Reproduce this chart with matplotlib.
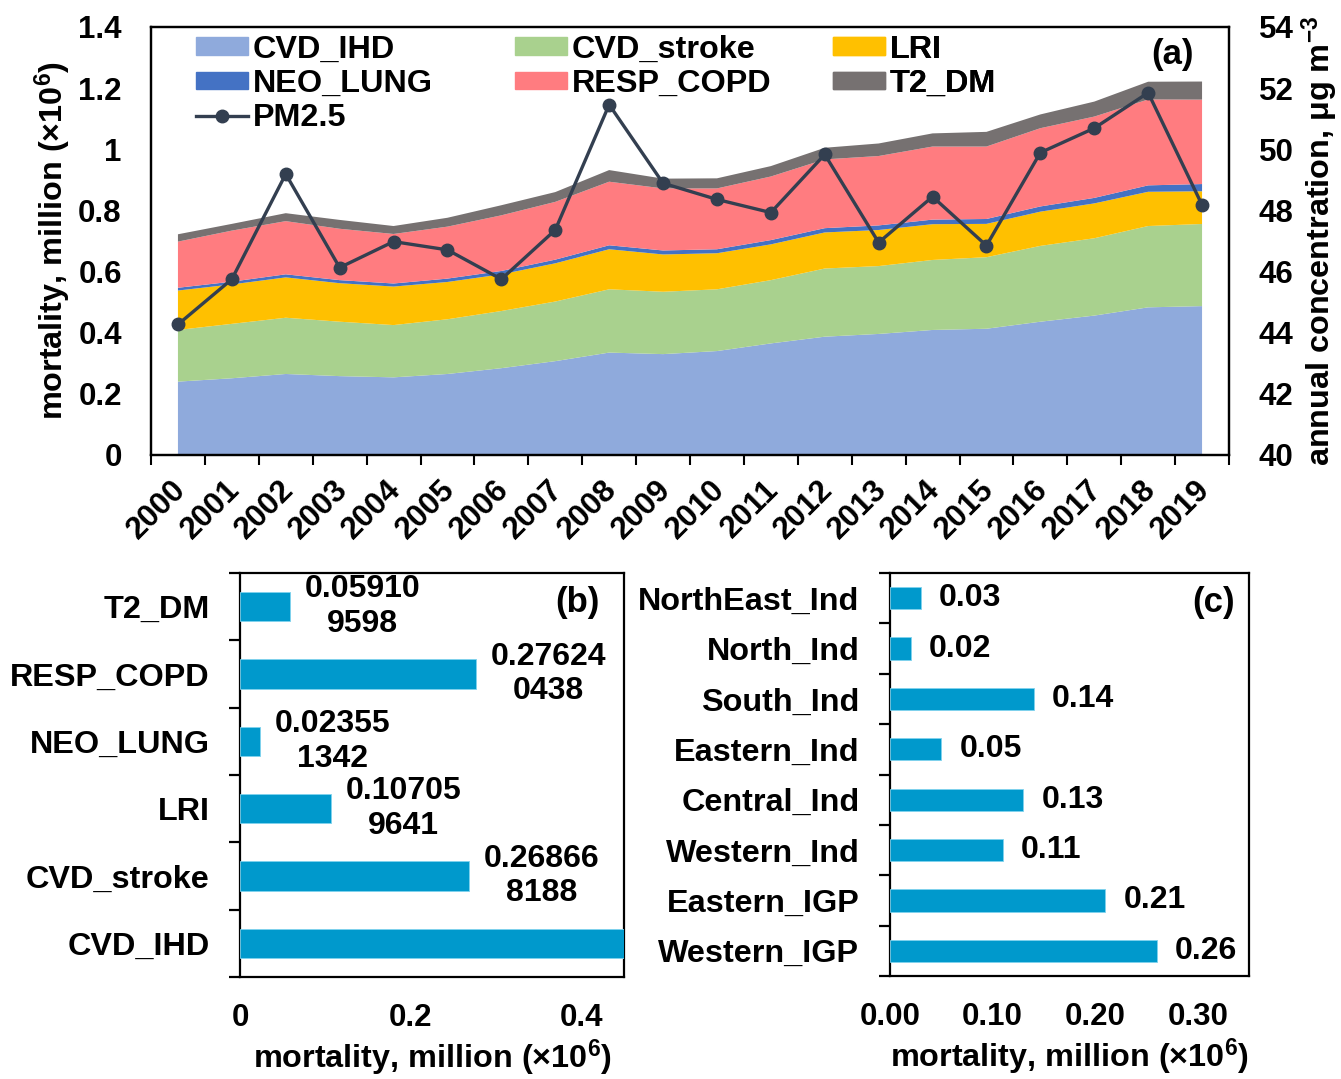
import matplotlib
matplotlib.use("Agg")
import matplotlib.pyplot as plt
import numpy as np
from matplotlib.patches import Patch
from matplotlib.lines import Line2D

plt.rcParams['font.family'] = ['Liberation Sans', 'DejaVu Sans']
plt.rcParams['font.weight'] = 'bold'
plt.rcParams['axes.labelweight'] = 'bold'
plt.rcParams['mathtext.fontset'] = 'custom'
plt.rcParams['mathtext.rm'] = 'Liberation Sans:bold'
plt.rcParams['mathtext.it'] = 'Liberation Sans:bold'
plt.rcParams['mathtext.bf'] = 'Liberation Sans:bold'

# ---- (a) yearly attributable mortality by cause (million) and PM2.5 ----
years = [str(y) for y in range(2000, 2020)]
cvd_ihd = [0.240, 0.251, 0.265, 0.258, 0.254, 0.265, 0.284, 0.307, 0.335, 0.330,
           0.340, 0.365, 0.387, 0.396, 0.409, 0.413, 0.436, 0.456, 0.483, 0.487]
cvd_stroke = [0.169, 0.178, 0.184, 0.178, 0.171, 0.179, 0.187, 0.195, 0.207, 0.204,
              0.202, 0.207, 0.223, 0.222, 0.229, 0.234, 0.248, 0.253, 0.266, 0.268668188]
lri = [0.129, 0.129, 0.132, 0.126, 0.126, 0.122, 0.120, 0.125, 0.131, 0.122,
       0.118, 0.117, 0.118, 0.118, 0.117, 0.109, 0.112, 0.114, 0.112, 0.107059641]
neo_lung = [0.009, 0.009, 0.010, 0.010, 0.010, 0.011, 0.011, 0.012, 0.013, 0.013,
            0.013, 0.014, 0.014, 0.015, 0.015, 0.016, 0.017, 0.018, 0.021, 0.023551342]
resp_copd = [0.151, 0.167, 0.174, 0.168, 0.162, 0.170, 0.182, 0.189, 0.208, 0.203,
             0.199, 0.208, 0.225, 0.227, 0.239, 0.237, 0.256, 0.266, 0.281, 0.276240438]
t2_dm = [0.024, 0.022, 0.026, 0.029, 0.026, 0.029, 0.033, 0.032, 0.038, 0.032,
         0.033, 0.034, 0.038, 0.041, 0.043, 0.048, 0.045, 0.049, 0.058, 0.059109598]
pm25 = [44.27, 45.75, 49.19, 46.13, 46.98, 46.71, 45.75, 47.36, 51.46, 48.89,
        48.36, 47.93, 49.83, 46.95, 48.45, 46.85, 49.89, 50.69, 51.85, 48.18]

# ---- (b) mortality by cause, 2019 ----
causes = ['CVD_IHD', 'CVD_stroke', 'LRI', 'NEO_LUNG', 'RESP_COPD', 'T2_DM']
cause_vals = [0.487, 0.268668188, 0.107059641, 0.023551342, 0.276240438, 0.059109598]

# ---- (c) mortality by region ----
regions = ['Western_IGP', 'Eastern_IGP', 'Western_Ind', 'Central_Ind',
           'Eastern_Ind', 'South_Ind', 'North_Ind', 'NorthEast_Ind']
region_vals = [0.26, 0.21, 0.11, 0.13, 0.05, 0.14, 0.02, 0.03]

c_ihd = '#8FAADC'
c_stroke = '#A9D18E'
c_lri = '#FFC000'
c_neo = '#4472C4'
c_resp = '#FF7C80'
c_t2 = '#767171'
c_pm = '#333F50'
c_bar = '#0099CC'

FS_TICK = 22.5
FS_LAB = 23.3
FS_VAL = 23
W, H = 1341, 1079
fig = plt.figure(figsize=(W / 100, H / 100), dpi=100)


def frac_box(l, t, r, b):
    return [l / W, 1 - b / H, (r - l) / W, (b - t) / H]


# ---------------- panel (a) ----------------
ax = fig.add_axes(frac_box(151, 27, 1229, 455))
x = np.arange(len(years))
ax.stackplot(x, cvd_ihd, cvd_stroke, lri, neo_lung, resp_copd, t2_dm,
             colors=[c_ihd, c_stroke, c_lri, c_neo, c_resp, c_t2], linewidth=0)
ax.set_xlim(-0.5, len(years) - 0.5)
ax.set_ylim(0, 1.4)
ax.set_yticks(np.arange(0, 1.41, 0.2))
ax.set_yticklabels(['0', '0.2', '0.4', '0.6', '0.8', '1', '1.2', '1.4'])
ax.tick_params(axis='y', length=0, pad=21, labelsize=FS_TICK)
ax.set_xticks(np.arange(-0.5, len(years), 1.0))
ax.set_xticklabels([])
ax.tick_params(axis='x', which='major', length=7, width=1.5, direction='out')
ax.set_xticks(x + 0.06, minor=True)
ax.set_xticklabels(years, minor=True, rotation=45, ha='right', va='center',
                   rotation_mode='anchor', fontsize=FS_TICK)
ax.tick_params(axis='x', which='minor', length=0, pad=22)
for s in ax.spines.values():
    s.set_linewidth(1.6)
ax.set_ylabel('mortality, million (×10$^{6}$)', fontsize=FS_LAB, labelpad=3)

ax2 = ax.twinx()
ax2.plot(x, pm25, color=c_pm, lw=2.4, marker='o', ms=9)
ax2.set_ylim(40, 54)
ax2.set_yticks(np.arange(40, 55, 2))
ax2.tick_params(axis='y', length=0, pad=21.5, labelsize=FS_TICK)
ax2.set_ylabel('annual concentration, μg m$^{-3}$', fontsize=FS_LAB, labelpad=4)
for s in ax2.spines.values():
    s.set_linewidth(1.6)

# legend laid out as three fixed-width columns
legend_cols = [
    ([Patch(color=c_ihd), Patch(color=c_neo),
      Line2D([], [], color=c_pm, lw=2.4, marker='o', ms=9)],
     ['CVD_IHD', 'NEO_LUNG', 'PM2.5'], 0.0417),
    ([Patch(color=c_stroke), Patch(color=c_resp)], ['CVD_stroke', 'RESP_COPD'], 0.3377),
    ([Patch(color=c_lri), Patch(color=c_t2)], ['LRI', 'T2_DM'], 0.6327),
]
for hs, ls, xa in legend_cols:
    lg = ax2.legend(hs, ls, loc='upper left', bbox_to_anchor=(xa, 0.982),
                    frameon=False, fontsize=FS_LAB, handlelength=1.6,
                    handleheight=0.46, handletextpad=0.15, labelspacing=0.13,
                    borderpad=0, borderaxespad=0)
    ax2.add_artist(lg)
ax2.text(0.9675, 0.935, '(a)', transform=ax2.transAxes, ha='right', va='center',
         fontsize=25)


def hbar_panel(box, cats, vals, xmax, xticks, xticklabels, fmt, tag, tag_x, off):
    axb = fig.add_axes(frac_box(*box))
    pos = np.arange(len(cats))
    axb.barh(pos, vals, height=0.44, color=c_bar, edgecolor='#7FD3EE', linewidth=0.6)
    axb.set_xlim(0, xmax)
    axb.set_ylim(-0.5, len(cats) - 0.5)
    axb.set_yticks(np.arange(-0.5, len(cats), 1.0))
    axb.set_yticklabels([])
    axb.tick_params(axis='y', which='major', length=8, width=1.6, direction='out')
    axb.set_yticks(pos, minor=True)
    axb.set_yticklabels(cats, minor=True, fontsize=FS_LAB)
    axb.tick_params(axis='y', which='minor', length=0, pad=22)
    axb.set_xticks(xticks)
    axb.set_xticklabels(xticklabels, fontsize=FS_TICK)
    axb.tick_params(axis='x', length=0, pad=19)
    axb.set_xlabel('mortality, million (×10$^{6}$)', fontsize=FS_LAB, labelpad=3)
    for s in axb.spines.values():
        s.set_linewidth(1.6)
        s.set_zorder(0.5)
    for p, v in zip(pos, vals):
        if v < xmax:
            axb.annotate(fmt(v), (v, p), xytext=(off, 0), textcoords='offset points',
                         ha='left', va='center', multialignment='center',
                         fontsize=FS_VAL, linespacing=1.2)
    axb.text(tag_x, 0.928, tag, transform=axb.transAxes, ha='right', va='center',
             fontsize=25)
    return axb


def wrapped(v):
    s = f'{v:.9f}'
    return s[:7] + '\n' + s[7:]


hbar_panel((240, 573, 624, 977), causes, cause_vals, 0.45,
           [0, 0.2, 0.4], ['0', '0.2', '0.4'], wrapped, '(b)', 0.9375, 10.5)
hbar_panel((890, 573, 1249, 976), regions, region_vals, 0.35,
           [0, 0.1, 0.2, 0.3], ['0.00', '0.10', '0.20', '0.30'],
           lambda v: f'{v:.2f}', '(c)', 0.961, 13)

fig.savefig('out.png', dpi=100)
